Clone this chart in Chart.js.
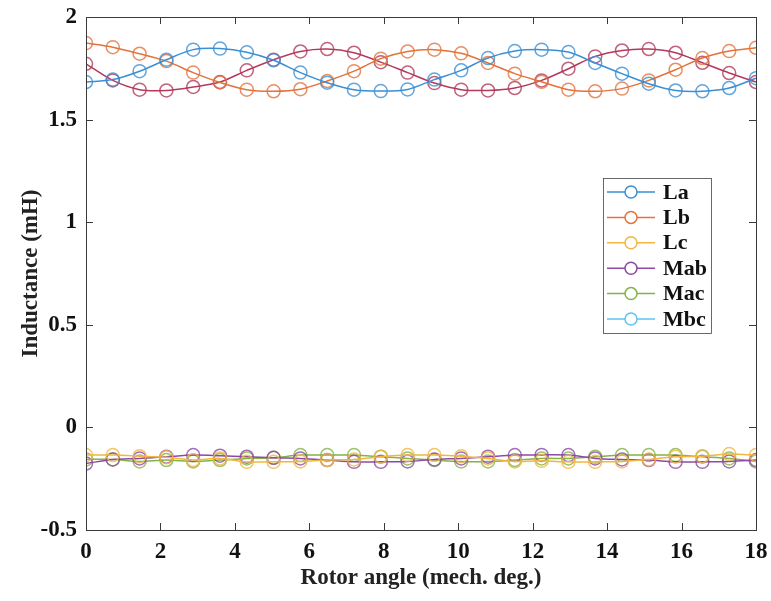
<!DOCTYPE html>
<html>
<head>
<meta charset="utf-8">
<script src="https://cdn.jsdelivr.net/npm/chart.js@4.4.0/dist/chart.umd.min.js"></script>
<style>
  html, body { margin: 0; padding: 0; background: #fff; }
  #wrap { width: 771px; height: 601px; }
</style>
</head>
<body>
<div id="wrap"><canvas id="chart" width="771" height="601"></canvas></div>
<script>
// rotor angle (mech. deg.)
const angle = [0, 0.72, 1.44, 2.16, 2.88, 3.6, 4.32, 5.04, 5.76, 6.48, 7.2, 7.92, 8.64,
  9.36, 10.08, 10.8, 11.52, 12.24, 12.96, 13.68, 14.4, 15.12, 15.84, 16.56, 17.28, 18];

// inductances (mH)
const La = [1.683, 1.695, 1.736, 1.792, 1.841, 1.846, 1.828, 1.789, 1.729, 1.680, 1.646, 1.639, 1.647,
  1.695, 1.740, 1.800, 1.834, 1.841, 1.829, 1.776, 1.724, 1.675, 1.642, 1.638, 1.654, 1.702];
const Lb = [1.873, 1.853, 1.821, 1.785, 1.729, 1.681, 1.646, 1.638, 1.648, 1.688, 1.736, 1.797, 1.832,
  1.841, 1.823, 1.776, 1.724, 1.684, 1.646, 1.638, 1.651, 1.691, 1.743, 1.800, 1.834, 1.850];
const Lc = [1.772, 1.691, 1.646, 1.642, 1.659, 1.683, 1.740, 1.792, 1.832, 1.844, 1.826, 1.780, 1.729,
  1.678, 1.646, 1.642, 1.654, 1.691, 1.748, 1.808, 1.837, 1.844, 1.826, 1.777, 1.727, 1.683];
const Mab = [-0.135, -0.135, -0.140, -0.146, -0.159, -0.151, -0.168, -0.168, -0.166, -0.159, -0.156, -0.143, -0.135,
  -0.135, -0.140, -0.151, -0.166, -0.163, -0.168, -0.168, -0.166, -0.156, -0.143, -0.140, -0.130, -0.135];
const Mac = [-0.176, -0.156, -0.151, -0.143, -0.135, -0.138, -0.143, -0.148, -0.151, -0.159, -0.168, -0.168, -0.166,
  -0.156, -0.151, -0.143, -0.135, -0.134, -0.135, -0.151, -0.156, -0.159, -0.168, -0.168, -0.166, -0.159];
const Mbc = [-0.156, -0.156, -0.166, -0.159, -0.166, -0.159, -0.151, -0.148, -0.135, -0.135, -0.135, -0.143, -0.151,
  -0.159, -0.166, -0.166, -0.159, -0.151, -0.151, -0.143, -0.135, -0.135, -0.135, -0.143, -0.151, -0.166];

const seriesNames = ['La', 'Lb', 'Lc', 'Mab', 'Mac', 'Mbc'];
const seriesData = [La, Lb, Lc, Mab, Mac, Mbc];
const lineColors = ['#3b8fd3', '#e2733c', '#b33a5c', '#f2b740', '#8e4aa3', '#82b446'];
const legendColors = ['#3b8fd3', '#e2733c', '#f2b740', '#8e4aa3', '#82b446', '#5cc3ee'];

const xTicks = [0, 2, 4, 6, 8, 10, 12, 14, 16, 18];
const yTicks = [-0.5, 0, 0.5, 1, 1.5, 2];

const FONT = '"Liberation Serif", "Times New Roman", serif';

// box + inward ticks, matlab style
const boxPlugin = {
  id: 'box',
  afterDraw(chart) {
    const { ctx, chartArea: a, scales } = chart;
    ctx.save();
    ctx.strokeStyle = '#3a3a3a';
    ctx.lineWidth = 1;
    ctx.strokeRect(a.left + 0.5, a.top + 0.5, a.right - a.left, a.bottom - a.top);
    const len = 7;
    ctx.beginPath();
    xTicks.forEach(v => {
      const x = Math.round(scales.x.getPixelForValue(v)) + 0.5;
      ctx.moveTo(x, a.bottom); ctx.lineTo(x, a.bottom - len);
      ctx.moveTo(x, a.top); ctx.lineTo(x, a.top + len);
    });
    yTicks.forEach(v => {
      const y = Math.round(scales.y.getPixelForValue(v)) + 0.5;
      ctx.moveTo(a.left, y); ctx.lineTo(a.left + len, y);
      ctx.moveTo(a.right, y); ctx.lineTo(a.right - len, y);
    });
    ctx.stroke();

    // legend box
    const lx = 603, ly = 178, lw = 108, lh = 155, rowH = 25.4;
    ctx.fillStyle = '#fff';
    ctx.fillRect(lx, ly, lw, lh);
    ctx.strokeStyle = '#444';
    ctx.lineWidth = 0.8;
    ctx.strokeRect(lx + 0.5, ly + 0.5, lw, lh);
    ctx.font = 'bold 22px ' + FONT;
    ctx.textBaseline = 'middle';
    seriesNames.forEach((name, i) => {
      const y = ly + 14 + i * rowH;
      ctx.strokeStyle = legendColors[i];
      ctx.lineWidth = 1.5;
      ctx.beginPath();
      ctx.moveTo(lx + 4, y); ctx.lineTo(lx + 52, y);
      ctx.stroke();
      ctx.beginPath();
      ctx.fillStyle = '#fff';
      ctx.arc(lx + 28, y, 6, 0, Math.PI * 2);
      ctx.fill();
      ctx.stroke();
      ctx.fillStyle = '#111';
      ctx.fillText(name, lx + 60, y + 1);
    });
    ctx.restore();
  }
};

const ctx = document.getElementById('chart').getContext('2d');
new Chart(ctx, {
  type: 'line',
  data: {
    datasets: seriesNames.map((name, i) => ({
      label: name,
      data: angle.map((x, j) => ({ x: x, y: seriesData[i][j] })),
      borderColor: lineColors[i],
      backgroundColor: 'rgba(0,0,0,0)',
      borderWidth: 1.5,
      pointRadius: 6.5,
      pointBorderWidth: 1.5,
      pointBorderColor: lineColors[i] + 'cc',
      pointBackgroundColor: 'rgba(0,0,0,0)',
      tension: 0.3
    }))
  },
  options: {
    responsive: false,
    animation: false,
    layout: { padding: { left: 0, top: 17, right: 15, bottom: 0 } },
    plugins: {
      legend: { display: false },
      tooltip: { enabled: false }
    },
    scales: {
      x: {
        type: 'linear',
        min: 0, max: 18,
        grid: { display: false, drawTicks: false },
        border: { display: false },
        afterBuildTicks: s => { s.ticks = xTicks.map(v => ({ value: v })); },
        afterFit: s => { s.height = 71; s.paddingLeft = 0; s.paddingRight = 0; },
        ticks: {
          color: '#111', padding: 8, maxRotation: 0,
          callback: v => String(v),
          font: { family: FONT, size: 23, weight: 'bold' }
        },
        title: {
          display: true,
          text: 'Rotor angle (mech. deg.)',
          color: '#222',
          padding: { top: 0, bottom: 9 },
          font: { family: FONT, size: 23, weight: 'bold' }
        }
      },
      y: {
        min: -0.5, max: 2,
        grid: { display: false, drawTicks: false },
        border: { display: false },
        afterBuildTicks: s => { s.ticks = yTicks.map(v => ({ value: v })); },
        afterFit: s => { s.width = 86; s.paddingTop = 0; s.paddingBottom = 0; },
        ticks: {
          color: '#111', padding: 9,
          callback: v => String(v),
          font: { family: FONT, size: 23, weight: 'bold' }
        },
        title: {
          display: true,
          text: 'Inductance (mH)',
          color: '#222',
          padding: { top: 17, bottom: 0 },
          font: { family: FONT, size: 23, weight: 'bold' }
        }
      }
    }
  },
  plugins: [boxPlugin]
});
</script>
</body>
</html>
